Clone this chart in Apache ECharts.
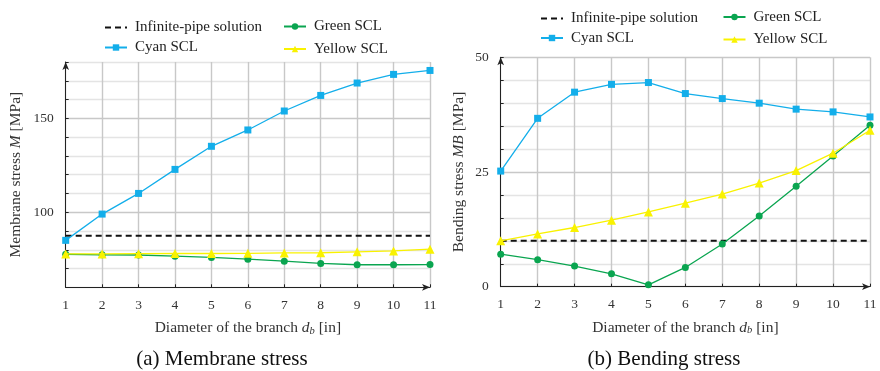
<!DOCTYPE html>
<html><head><meta charset="utf-8">
<script src="https://cdn.jsdelivr.net/npm/echarts@6/dist/echarts.min.js"></script>
<style>html,body{margin:0;padding:0;background:#fff}#c{width:880px;height:371px}</style>
</head><body><div id="c"></div>
<script>
const diameters = [1, 2, 3, 4, 5, 6, 7, 8, 9, 10, 11];
const seriesNames = ['Infinite-pipe solution', 'Cyan SCL', 'Green SCL', 'Yellow SCL'];

const membraneInfinite = [87.5, 87.5, 87.5, 87.5, 87.5, 87.5, 87.5, 87.5, 87.5, 87.5, 87.5];
const membraneCyan = [85.0, 99.0, 110.0, 122.8, 135.1, 143.8, 153.9, 162.2, 168.8, 173.4, 175.5];
const membraneGreen = [77.6, 77.3, 77.2, 76.6, 75.9, 75.0, 73.9, 72.7, 72.0, 72.0, 72.1];
const membraneYellow = [77.8, 77.8, 77.9, 78.0, 78.0, 78.1, 78.3, 78.4, 78.9, 79.4, 80.3];

const bendingInfinite = [10, 10, 10, 10, 10, 10, 10, 10, 10, 10, 10];
const bendingCyan = [25.2, 36.7, 42.4, 44.1, 44.5, 42.1, 41.0, 40.0, 38.7, 38.1, 37.0];
const bendingGreen = [7.1, 5.9, 4.5, 2.8, 0.4, 4.2, 9.3, 15.4, 21.9, 28.5, 35.2];
const bendingYellow = [10.0, 11.5, 12.9, 14.5, 16.3, 18.2, 20.2, 22.6, 25.3, 29.1, 34.1];

const membraneTickLabels = [100, 150];
const bendingTickLabels = [0, 25, 50];

const FONT = 'Liberation Serif';
const C_CYAN = '#13aeea', C_GREEN = '#0aa550', C_YELLOW = '#f9f200', C_BLACK = '#111';
const GRID_MAJOR = '#c8c8c8', GRID_MINOR = '#e4e4e4';
const NAME_SIZE = 15.5;

function pairs(ys) { return diameters.map((x, i) => [x, ys[i]]); }

function makeSeries(idx, inf, cyan, green, yellow) {
  const base = { type: 'line', xAxisIndex: idx, yAxisIndex: idx, animation: false };
  return [
    Object.assign({}, base, { name: seriesNames[0], data: pairs(inf), showSymbol: false, symbol: 'none',
      lineStyle: { color: C_BLACK, width: 2, type: [6, 4] }, itemStyle: { color: C_BLACK }, z: 3 }),
    Object.assign({}, base, { name: seriesNames[1], data: pairs(cyan), symbol: 'rect', symbolSize: 7,
      lineStyle: { color: C_CYAN, width: 1.3 }, itemStyle: { color: C_CYAN }, z: 4 }),
    Object.assign({}, base, { name: seriesNames[2], data: pairs(green), symbol: 'circle', symbolSize: 7,
      lineStyle: { color: C_GREEN, width: 1.3 }, itemStyle: { color: C_GREEN }, z: 4 }),
    Object.assign({}, base, { name: seriesNames[3], data: pairs(yellow), symbol: 'triangle', symbolSize: 9,
      lineStyle: { color: C_YELLOW, width: 1.3 }, itemStyle: { color: C_YELLOW }, z: 5 })
  ];
}

function xAxis(idx) {
  return {
    type: 'value', gridIndex: idx, min: 1, max: 11, interval: 1,
    name: 'Diameter of the branch {i|d}{s|b} [in]', nameLocation: 'middle', nameGap: 33,
    nameTextStyle: { fontFamily: FONT, fontSize: NAME_SIZE, color: '#333', lineHeight: 16,
      rich: { i: { fontFamily: FONT, fontStyle: 'italic', fontSize: NAME_SIZE, color: '#333', lineHeight: 16 },
              s: { fontFamily: FONT, fontStyle: 'italic', fontSize: 10.5, color: '#333', verticalAlign: 'bottom', lineHeight: 16 } } },
    axisLine: { show: true, onZero: false, lineStyle: { color: '#222', width: 1 }, symbol: ['none', 'arrow'], symbolSize: [5, 8] },
    axisTick: { show: true, inside: true, length: 3, lineStyle: { color: '#222' } },
    axisLabel: { fontFamily: FONT, fontSize: 13.5, color: '#333', margin: 11 },
    splitLine: { show: true, lineStyle: { color: GRID_MAJOR, width: 1.4 } }
  };
}

function yAxis(idx, min, max, interval, labels, name, majorColors, gap) {
  return {
    type: 'value', gridIndex: idx, min: min, max: max, interval: interval,
    name: name, nameLocation: 'middle', nameGap: gap, nameRotate: 90,
    nameTextStyle: { fontFamily: FONT, fontSize: NAME_SIZE, color: '#333',
      rich: { i: { fontFamily: FONT, fontStyle: 'italic', fontSize: NAME_SIZE, color: '#333' } } },
    axisLine: { show: true, onZero: false, lineStyle: { color: '#222', width: 1 }, symbol: ['none', 'arrow'], symbolSize: [5, 8] },
    axisTick: { show: true, inside: true, length: 3, lineStyle: { color: '#222' } },
    axisLabel: { fontFamily: FONT, fontSize: 13.5, color: '#333', margin: 12,
      formatter: v => labels.indexOf(v) >= 0 ? String(v) : '' },
    splitLine: { show: true, lineStyle: { color: majorColors, width: 1.3 } }
  };
}

function legend(name, left, cy, hideSymbol) {
  const l = {
    data: [name], left: left, top: cy - 4, padding: 0, itemWidth: 22, itemHeight: 8, itemGap: 0,
    selectedMode: false,
    textStyle: { fontFamily: FONT, fontSize: 15, color: '#222', padding: [0, 0, 0, 3] }
  };
  if (hideSymbol) l.itemStyle = { opacity: 0 };
  return l;
}

const chart = echarts.init(document.getElementById('c'), null, { renderer: 'canvas' });
const m5 = [GRID_MINOR, GRID_MINOR, GRID_MINOR, GRID_MINOR, GRID_MAJOR];
const b5 = [GRID_MAJOR, GRID_MINOR, GRID_MINOR, GRID_MINOR, GRID_MINOR];

chart.setOption({
  backgroundColor: '#fff',
  animation: false,
  grid: [
    { left: 65.7, top: 62, width: 364.3, height: 225.3 },
    { left: 500.7, top: 57.3, width: 369.3, height: 229.4 }
  ],
  xAxis: [xAxis(0), xAxis(1)],
  yAxis: [
    yAxis(0, 60, 180, 10, membraneTickLabels, 'Membrane stress {i|M} [MPa]', m5, 42),
    yAxis(1, 0, 50, 5, bendingTickLabels, 'Bending stress {i|MB} [MPa]', b5, 34)
  ],
  legend: [
    legend(seriesNames[0], 104, 24, true), legend(seriesNames[1], 104, 44),
    legend(seriesNames[2], 283, 23), legend(seriesNames[3], 283, 45.5),
    legend(seriesNames[0], 540, 15, true), legend(seriesNames[1], 540, 34.5),
    legend(seriesNames[2], 722.5, 13.5), legend(seriesNames[3], 722.5, 36)
  ],
  graphic: [
    { type: 'text', style: { text: '(a) Membrane stress', x: 222, y: 359, align: 'center', verticalAlign: 'middle',
      font: '21px "' + FONT + '"', fill: '#111' } },
    { type: 'text', style: { text: '(b) Bending stress', x: 664, y: 359, align: 'center', verticalAlign: 'middle',
      font: '21px "' + FONT + '"', fill: '#111' } }
  ],
  series: [].concat(
    makeSeries(0, membraneInfinite, membraneCyan, membraneGreen, membraneYellow),
    makeSeries(1, bendingInfinite, bendingCyan, bendingGreen, bendingYellow)
  )
});
</script></body></html>
